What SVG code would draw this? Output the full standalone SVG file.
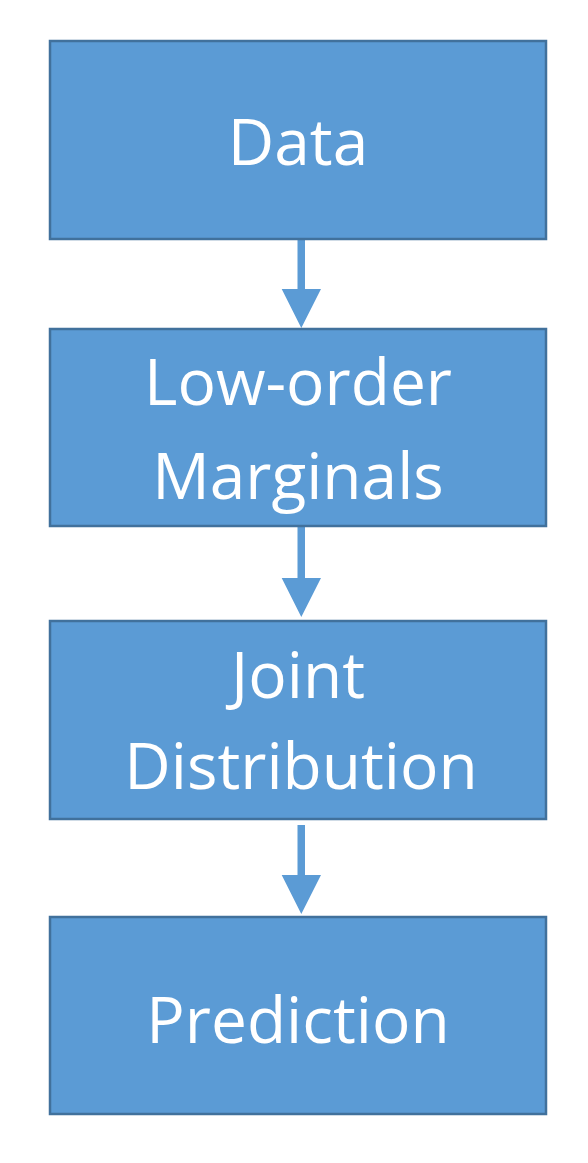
<svg xmlns="http://www.w3.org/2000/svg" width="588" height="1163" viewBox="0 0 588 1163">
<style>
.box{fill:#5B9BD5;stroke:#41719C;stroke-width:2.5}
.lbl{font-family:"Open Sans","Liberation Sans",sans-serif;font-size:64px;fill:#FFFFFF;text-anchor:middle}
.arrow{fill:#5B9BD5}
</style>
<rect width="588" height="1163" fill="#FFFFFF"/>
<g id="connectors">
<path class="arrow" d="M297.5,240 H305 V289 H321 L301.3,328 L281.7,289 H297.5 Z"/>
<path class="arrow" d="M297.5,527 H305 V578 H321 L301.3,617 L281.7,578 H297.5 Z"/>
<path class="arrow" d="M297.5,825 H305 V875 H321 L301.3,914 L281.7,875 H297.5 Z"/>
</g>
<g id="node-data">
<rect class="box" x="50" y="41" width="496" height="198"/>
<text class="lbl" x="298" y="165">Data</text>
</g>
<g id="node-marginals">
<rect class="box" x="50" y="329" width="496" height="197"/>
<text class="lbl" x="298" y="405">Low-order</text>
<text class="lbl" x="298" y="499">Marginals</text>
</g>
<g id="node-joint">
<rect class="box" x="50" y="621" width="496" height="198"/>
<text class="lbl" x="298" y="698">Joint</text>
<text class="lbl" x="301" y="789">Distribution</text>
</g>
<g id="node-prediction">
<rect class="box" x="50" y="917" width="496" height="197"/>
<text class="lbl" x="298" y="1043">Prediction</text>
</g>
</svg>
